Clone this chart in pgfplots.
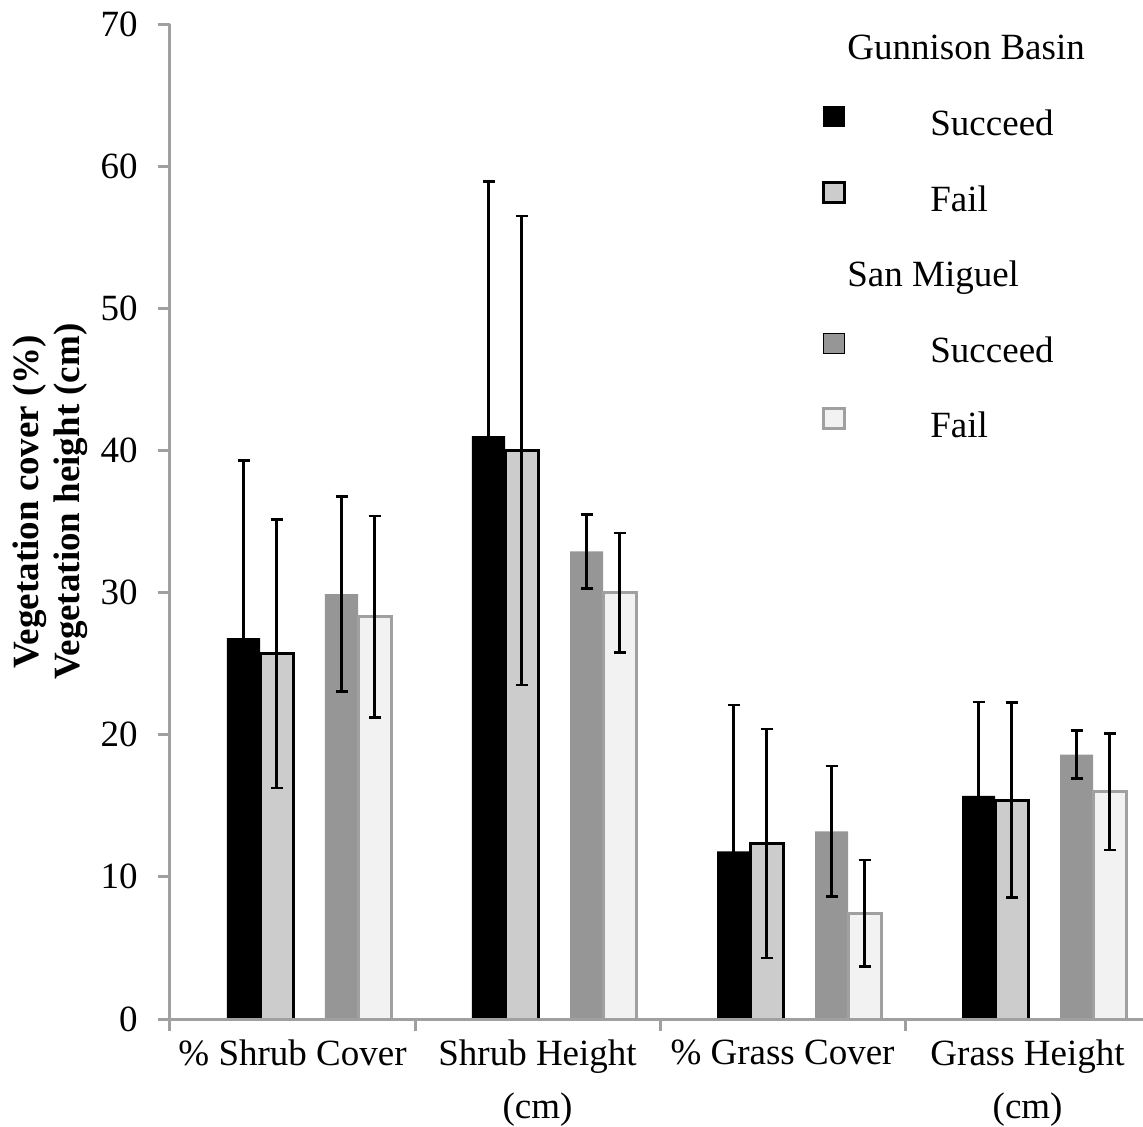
\documentclass[border=0pt]{standalone}
\usepackage{fontspec}
\setmainfont{Liberation Serif}
\usepackage{pgfplots}
\usepackage{pgfplotstable}
\pgfplotsset{compat=1.18}
\definecolor{axgray}{RGB}{160,160,160}
\definecolor{cLight}{RGB}{204,204,204}
\definecolor{cDark}{RGB}{150,150,150}
\definecolor{cVlight}{RGB}{242,242,242}

% x = bar centre (category index plus offset within the group)
\pgfplotstableread{
x y e
-0.2 26.8 12.5
0.8 41.0 17.9
1.8 11.8 10.3
2.8 15.7 6.6
}\gbsucc
\pgfplotstableread{
x y e
-0.065 25.7 9.45
0.935 40.0 16.5
1.935 12.35 8.05
2.935 15.4 6.85
}\gbfail
\pgfplotstableread{
x y e
0.2 29.9 6.85
1.2 32.9 2.6
2.2 13.2 4.6
3.2 18.6 1.7
}\smsucc
\pgfplotstableread{
x y e
0.335 28.3 7.1
1.335 30.0 4.2
2.335 7.45 3.75
3.335 16.0 4.1
}\smfail

\pgfplotsset{
  sqlegend/.style={legend image code/.code={%
    \draw[##1] (0pt,-1pt) rectangle (10.5pt,9pt);
    \path[draw=none,fill=none] (0pt,0pt) -- (53.5pt,0pt);}},
  myerr/.style={error bars/.cd, y dir=both, y explicit,
    error bar style={line width=1.3pt, black},
    error mark options={rotate=90, mark size=3pt, line width=1.3pt, black}},
}

\begin{document}
\begin{tikzpicture}
\fontsize{18.5}{22}\selectfont
\begin{axis}[
  at={(0,0)}, anchor=south west,
  scale only axis, width=486.5pt, height=497.5pt,
  xmin=-0.5, xmax=3.471, ymin=0, ymax=70,
  enlargelimits=false,
  axis on top,
  ytick={0,10,...,70},
  xtick={-0.5,0.5,1.5,2.5,3.5},
  xticklabels={},
  extra x ticks={0,1,2,3},
  extra x tick labels={{\% Shrub Cover},{Shrub Height\\(cm)},{\% Grass Cover},{Grass Height\\(cm)}},
  extra x tick style={major tick length=0pt,
    xticklabel style={anchor=north, align=center, inner sep=0pt,
      font=\fontsize{18.5}{26.5}\selectfont, yshift=-10.4pt}},
  axis x line*=bottom, axis y line*=left,
  axis line style={axgray, line width=1.5pt, -},
  tick align=outside,
  major tick length=6pt,
  tick style={axgray, line width=1.5pt},
  /pgf/number format/assume math mode=true,
  yticklabel style={anchor=east, inner sep=0pt, xshift=-10pt, font=\fontsize{18.5}{22}\selectfont},
  ylabel={Vegetation cover (\%)\\Vegetation height (cm)},
  ylabel style={font=\bfseries\fontsize{18.5}{20.5}\selectfont, align=center,
    at={(axis description cs:-0.123,0.52)}, anchor=center, inner sep=0pt},
  legend style={at={(axis description cs:0.670,0.994)}, anchor=north west,
    draw=none, fill=none, inner sep=0pt, outer sep=0pt,
    row sep=18.7pt, column sep=0pt,
    nodes={inner sep=0pt, text height=15pt, text depth=4pt,
      font=\fontsize{18.5}{22}\selectfont}},
  legend cell align=left,
]
\addlegendimage{empty legend}
\addlegendentry{\hspace*{-41.5pt}Gunnison Basin}
\addplot[ybar, bar width=0.135, bar shift=0pt, fill=black, draw=none, sqlegend, myerr]
  table[x=x, y=y, y error=e] {\gbsucc};
\addlegendentry{Succeed}
\addplot[ybar, bar width=0.135, bar shift=0pt, fill=cLight, draw=black, line width=1.5pt, sqlegend, myerr]
  table[x=x, y=y, y error=e] {\gbfail};
\addlegendentry{Fail}
\addlegendimage{empty legend}
\addlegendentry{\hspace*{-41.5pt}San Miguel}
\addplot[ybar, bar width=0.135, bar shift=0pt, fill=cDark, draw=none, sqlegend, myerr]
  table[x=x, y=y, y error=e] {\smsucc};
\addlegendentry{Succeed}
\addplot[ybar, bar width=0.135, bar shift=0pt, fill=cVlight, draw=axgray, line width=1.5pt, sqlegend, myerr]
  table[x=x, y=y, y error=e] {\smfail};
\addlegendentry{Fail}
\end{axis}
\pgfresetboundingbox
\path (-85pt,-53.5pt) rectangle (486.5pt,509.5pt);
\end{tikzpicture}
\end{document}
